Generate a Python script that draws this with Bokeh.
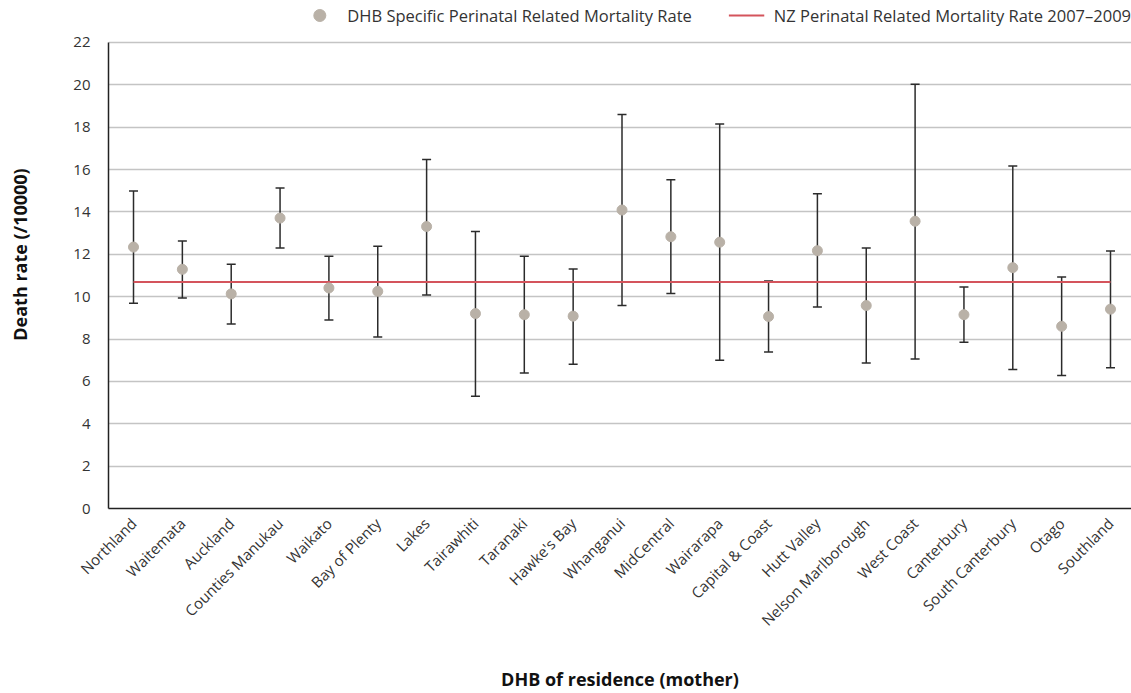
from math import pi
from bokeh.plotting import figure
from bokeh.models import (ColumnDataSource, Whisker, TeeHead, Legend, LegendItem,
                          FixedTicker, Range1d)
from bokeh.embed import file_html
from bokeh.resources import INLINE

# ---- data ----
categories = ["Northland", "Waitemata", "Auckland", "Counties Manukau", "Waikato",
              "Bay of Plenty", "Lakes", "Tairawhiti", "Taranaki", "Hawke's Bay",
              "Whanganui", "MidCentral", "Wairarapa", "Capital & Coast", "Hutt Valley",
              "Nelson Marlborough", "West Coast", "Canterbury", "South Canterbury",
              "Otago", "Southland"]
rate = [12.34, 11.29, 10.13, 13.71, 10.41, 10.25, 13.31, 9.20, 9.15, 9.08,
        14.09, 12.83, 12.57, 9.06, 12.17, 9.58, 13.56, 9.15, 11.37, 8.60, 9.41]
upper = [14.99, 12.63, 11.53, 15.13, 11.91, 12.38, 16.48, 13.08, 11.91, 11.31,
         18.60, 15.52, 18.15, 10.74, 14.86, 12.30, 20.03, 10.46, 16.17, 10.93, 12.16]
lower = [9.69, 9.94, 8.71, 12.30, 8.90, 8.10, 10.08, 5.30, 6.40, 6.81,
         9.58, 10.15, 7.00, 7.39, 9.51, 6.87, 7.06, 7.85, 6.56, 6.28, 6.64]
nz_rate = 10.69
y_ticks = [0, 2, 4, 6, 8, 10, 12, 14, 16, 18, 20, 22]

FONT = "Open Sans"
idx = list(range(len(categories)))

src = ColumnDataSource(dict(x=idx, rate=rate, upper=upper, lower=lower, name=categories))

p = figure(width=1131, height=693, output_backend="svg", toolbar_location=None,
           x_range=Range1d(-0.512, 20.43), y_range=Range1d(0, 23.98),
           min_border_left=108, min_border_right=0, min_border_top=0,
           min_border_bottom=185, outline_line_color=None)

# grid
p.xgrid.grid_line_color = None
p.ygrid.grid_line_color = "#c4c4c4"
p.ygrid.grid_line_width = 1.5

# error bars
wh = Whisker(source=src, base="x", upper="upper", lower="lower",
             line_color="#2b2b2b", line_width=1.5,
             upper_head=TeeHead(size=9, line_color="#2b2b2b", line_width=1.5),
             lower_head=TeeHead(size=9, line_color="#2b2b2b", line_width=1.5))
p.add_layout(wh)

nz_line = p.line(x=[idx[0], idx[-1]], y=[nz_rate, nz_rate], line_color="#d4545c", line_width=2)
pts = p.scatter(x="x", y="rate", source=src, size=10, marker="circle",
                fill_color="#b9b1a7", line_color="#b9b1a7")

# axes
p.yaxis.ticker = FixedTicker(ticks=y_ticks)
p.yaxis.bounds = (y_ticks[0], y_ticks[-1])
p.xaxis.ticker = FixedTicker(ticks=idx)
p.xaxis.major_label_overrides = {i: c for i, c in zip(idx, categories)}
p.xaxis.major_label_orientation = pi / 4
for ax in (p.xaxis[0], p.yaxis[0]):
    ax.axis_line_color = "#222222"
    ax.axis_line_width = 1.5
    ax.major_tick_line_color = None
    ax.minor_tick_line_color = None
    ax.major_label_text_font = FONT
    ax.major_label_text_font_size = "15px"
    ax.major_label_text_color = "#333333"
    ax.axis_label_text_font = FONT
    ax.axis_label_text_font_size = "18px"
    ax.axis_label_text_font_style = "bold"
    ax.axis_label_text_color = "#111111"
p.yaxis.axis_label = "Death rate (/10000)"
p.xaxis.axis_label = "DHB of residence (mother)"
p.yaxis.major_label_standoff = 12
p.yaxis.axis_label_standoff = 38
p.xaxis.major_label_standoff = 6
p.xaxis.axis_label_standoff = 27

legend = Legend(items=[LegendItem(label="DHB Specific Perinatal Related Mortality Rate", renderers=[pts]),
                       LegendItem(label="NZ Perinatal Related Mortality Rate 2007\u20132009", renderers=[nz_line])],
                orientation="horizontal", location="top_right",
                label_text_font=FONT, label_text_font_size="16.5px", label_text_color="#333333",
                border_line_color=None, background_fill_alpha=0,
                spacing=36, glyph_width=36, glyph_height=30, label_height=30,
                label_standoff=10, padding=2, margin=0)
p.add_layout(legend, "center")

open("out.html", "w").write(file_html(p, INLINE))
